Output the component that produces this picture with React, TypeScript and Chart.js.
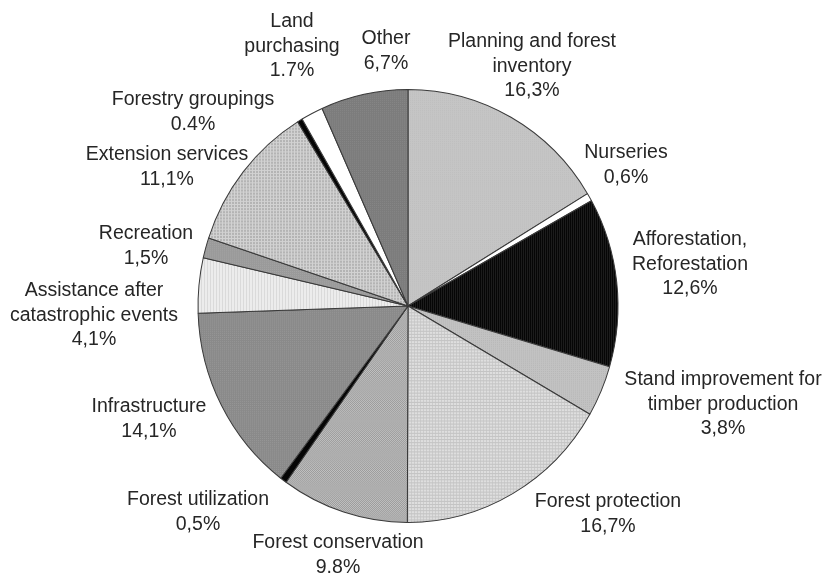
import React, { useEffect, useRef } from "react";
import { Chart, registerables } from "chart.js";

Chart.register(...registerables);

const categories: string[][] = [
  ["Planning and forest", "inventory"],
  ["Nurseries"],
  ["Afforestation,", "Reforestation"],
  ["Stand improvement for", "timber production"],
  ["Forest protection"],
  ["Forest conservation"],
  ["Forest utilization"],
  ["Infrastructure"],
  ["Assistance after", "catastrophic events"],
  ["Recreation"],
  ["Extension services"],
  ["Forestry groupings"],
  ["Land", "purchasing"],
  ["Other"],
];

const shares: number[] = [16.3, 0.6, 12.6, 3.8, 16.7, 9.8, 0.5, 14.1, 4.1, 1.5, 11.1, 0.4, 1.7, 6.7];

const shareLabels: string[] = [
  "16,3%", "0,6%", "12,6%", "3,8%", "16,7%", "9.8%", "0,5%",
  "14,1%", "4,1%", "1,5%", "11,1%", "0.4%", "1.7%", "6,7%",
];

// label placement: offsets (px) of the first text line from the pie centre
const labelOffsets: [number, number][] = [
  [124, -264], [218, -153], [282, -66], [315, 74], [200, 196], [-70, 237], [-210, 194],
  [-259, 101], [-314, -15], [-262, -72], [-241, -151], [-215, -206], [-116, -284], [-22, -267],
];

type Tile = { w: number; h: number; base: string; dots?: [number, number, string][] };

function makePattern(t: Tile): CanvasPattern | string {
  const c = document.createElement("canvas");
  c.width = t.w;
  c.height = t.h;
  const ctx = c.getContext("2d");
  if (!ctx) return t.base;
  ctx.fillStyle = t.base;
  ctx.fillRect(0, 0, t.w, t.h);
  (t.dots || []).forEach(([x, y, col]) => {
    ctx.fillStyle = col;
    ctx.fillRect(x, y, 1, 1);
  });
  const p = ctx.createPattern(c, "repeat");
  return p || t.base;
}

function fills(): (CanvasPattern | string)[] {
  return [
    makePattern({ w: 2, h: 2, base: "#c5c5c5", dots: [[0, 0, "#bfbfbf"]] }),
    "#ffffff",
    makePattern({ w: 2, h: 1, base: "#060606", dots: [[1, 0, "#1c1c1c"]] }),
    makePattern({ w: 2, h: 2, base: "#c2c2c2", dots: [[1, 1, "#b8b8b8"]] }),
    makePattern({
      w: 3, h: 3, base: "#dedede",
      dots: [[0, 0, "#c4c4c4"], [1, 0, "#c4c4c4"], [2, 0, "#c4c4c4"], [0, 1, "#cccccc"], [0, 2, "#cccccc"]],
    }),
    makePattern({ w: 2, h: 2, base: "#9c9c9c", dots: [[0, 0, "#c0c0c0"], [1, 1, "#c0c0c0"]] }),
    "#050505",
    makePattern({ w: 2, h: 2, base: "#8a8a8a", dots: [[0, 0, "#969696"]] }),
    makePattern({ w: 3, h: 1, base: "#ececec", dots: [[0, 0, "#dadada"]] }),
    makePattern({ w: 2, h: 2, base: "#9a9a9a", dots: [[0, 0, "#a4a4a4"]] }),
    makePattern({
      w: 3, h: 3, base: "#b4b4b4",
      dots: [[0, 0, "#d2d2d2"], [1, 0, "#d2d2d2"], [2, 0, "#d2d2d2"], [0, 1, "#d2d2d2"], [0, 2, "#d2d2d2"]],
    }),
    "#050505",
    "#ffffff",
    makePattern({ w: 2, h: 2, base: "#7c7c7c", dots: [[0, 0, "#868686"]] }),
  ];
}

// the source pie is slightly taller than it is wide
const verticalStretch = 1.031;

const stretchPlugin = {
  id: "stretch",
  beforeDatasetsDraw(chart: any) {
    const arc = chart.getDatasetMeta(0).data[0];
    if (!arc) return;
    const ctx = chart.ctx;
    ctx.save();
    ctx.translate(arc.x, arc.y);
    ctx.scale(1, verticalStretch);
    ctx.translate(-arc.x, -arc.y);
  },
  afterDatasetsDraw(chart: any) {
    if (!chart.getDatasetMeta(0).data[0]) return;
    chart.ctx.restore();
  },
};

const labelPlugin = {
  id: "sliceLabels",
  afterDraw(chart: any) {
    const meta = chart.getDatasetMeta(0);
    const arc = meta.data[0];
    if (!arc) return;
    const cx = arc.x;
    const cy = arc.y;
    const ctx = chart.ctx;
    ctx.save();
    ctx.fillStyle = "#262626";
    ctx.font = "19.5px 'Liberation Sans', Arial, sans-serif";
    ctx.textAlign = "center";
    ctx.textBaseline = "middle";
    const lh = 24.5;
    categories.forEach((lines, i) => {
      const [dx, dy] = labelOffsets[i];
      const all = [...lines, shareLabels[i]];
      all.forEach((s, k) => ctx.fillText(s, cx + dx, cy + dy + k * lh));
    });
    ctx.restore();
  },
};

export default function App() {
  const ref = useRef<HTMLCanvasElement | null>(null);
  useEffect(() => {
    if (!ref.current) return;
    const chart = new Chart(ref.current, {
      type: "pie",
      data: {
        labels: categories.map((c) => c.join(" ")),
        datasets: [
          {
            data: shares,
            backgroundColor: fills() as any,
            borderColor: "#3a3a3a",
            borderWidth: 1,
          },
        ],
      },
      options: {
        responsive: false,
        animation: false,
        radius: 210,
        layout: { padding: { top: 93, bottom: 56, left: 195, right: 202 } },
        plugins: { legend: { display: false }, tooltip: { enabled: false } },
      } as any,
      plugins: [stretchPlugin, labelPlugin],
    });
    return () => chart.destroy();
  }, []);
  return (
    <canvas
      ref={ref}
      width={823}
      height={575}
      style={{ position: "absolute", left: 0, top: 0, width: 823, height: 575, display: "block", background: "#fff" }}
    />
  );
}
